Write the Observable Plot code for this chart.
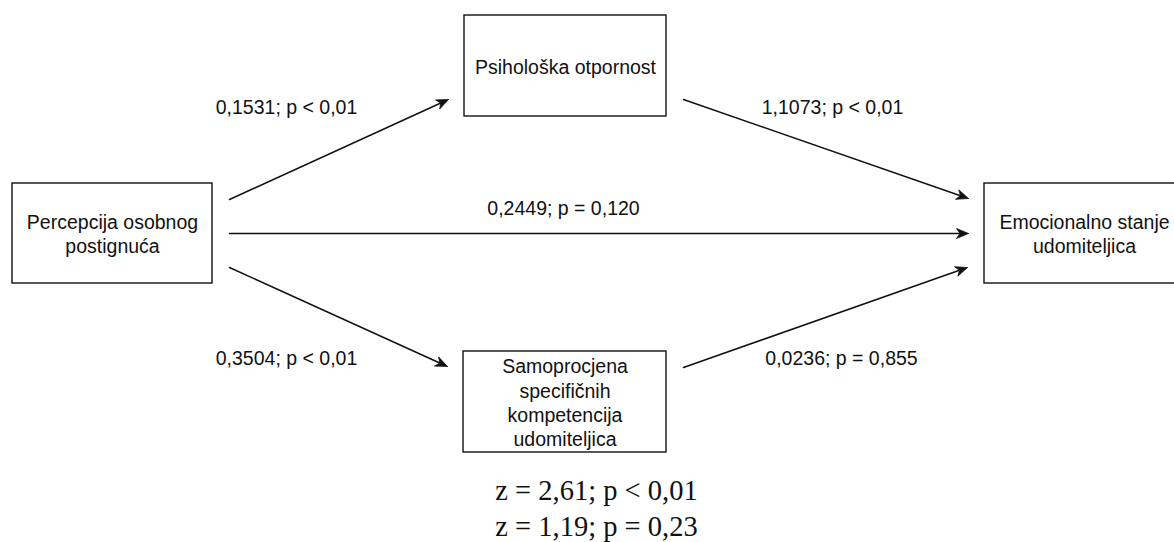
<!DOCTYPE html>
<html>
<head>
<meta charset="utf-8">
<script src="https://cdn.jsdelivr.net/npm/d3@7"></script>
<script src="https://cdn.jsdelivr.net/npm/@observablehq/plot@0.6"></script>
<style>
  html, body { margin: 0; padding: 0; background: #fff; overflow: hidden; }
  #chart svg { display: block; }
</style>
</head>
<body>
<div id="chart"></div>
<script>
// ---------- data ----------
const nodeNames = [
  "Percepcija osobnog\npostignuća",
  "Psihološka otpornost",
  "Samoprocjena\nspecifičnih\nkompetencija\nudomiteljica",
  "Emocionalno stanje\nudomiteljica"
];
const pathFrom = [0, 1, 0, 0, 2];
const pathTo = [1, 3, 3, 2, 3];
const coefficients = ["0,1531", "1,1073", "0,2449", "0,3504", "0,0236"];
const pValues = ["p < 0,01", "p < 0,01", "p = 0,120", "p < 0,01", "p = 0,855"];
const sobelZ = ["2,61", "1,19"];
const sobelP = ["p < 0,01", "p = 0,23"];

// ---------- layout (diagram geometry, pixel space) ----------
const W = 1174, H = 542;
const boxLayout = [
  {x1: 12, x2: 212, y1: 183, y2: 283},
  {x1: 464, x2: 666, y1: 15, y2: 116},
  {x1: 463, x2: 666, y1: 351, y2: 452},
  {x1: 984, x2: 1184, y1: 183, y2: 283}
];
const edgeLayout = [
  {x1: 229, y1: 199, x2: 448, y2: 99, lx: 286, ly: 107},
  {x1: 683, y1: 99, x2: 968, y2: 198, lx: 832, ly: 107},
  {x1: 229, y1: 233, x2: 968, y2: 233, lx: 563, ly: 208},
  {x1: 229, y1: 267, x2: 447, y2: 366, lx: 286, ly: 358},
  {x1: 683, y1: 367, x2: 967, y2: 267, lx: 841, ly: 358}
];
const sobelLayout = {x: 596, y: 505.5};

// ---------- derived tables ----------
const nodes = nodeNames.map((name, i) => ({
  name, ...boxLayout[i],
  cx: (boxLayout[i].x1 + boxLayout[i].x2) / 2,
  cy: (boxLayout[i].y1 + boxLayout[i].y2) / 2
}));

const edges = coefficients.map((c, i) => ({
  from: nodeNames[pathFrom[i]], to: nodeNames[pathTo[i]],
  label: `${c}; ${pValues[i]}`, ...edgeLayout[i]
}));

const HEAD_L = 12, HEAD_W = 5, HEAD_N = 8.5;
const shafts = [];
const heads = [];
edges.forEach((e, i) => {
  const dx = e.x2 - e.x1, dy = e.y2 - e.y1, len = Math.hypot(dx, dy);
  const ux = dx / len, uy = dy / len, px = -uy, py = ux;
  shafts.push({id: i, x: e.x1, y: e.y1});
  shafts.push({id: i, x: e.x2 - ux * HEAD_N, y: e.y2 - uy * HEAD_N});
  const bx = e.x2 - ux * HEAD_L, by = e.y2 - uy * HEAD_L;
  heads.push({id: i, x: e.x2, y: e.y2});
  heads.push({id: i, x: bx + px * HEAD_W, y: by + py * HEAD_W});
  heads.push({id: i, x: e.x2 - ux * HEAD_N, y: e.y2 - uy * HEAD_N});
  heads.push({id: i, x: bx - px * HEAD_W, y: by - py * HEAD_W});
  heads.push({id: i, x: e.x2, y: e.y2});
});

const sobelText = sobelZ.map((z, i) => `z = ${z}; ${sobelP[i]}`).join("\n");

const SANS = "'Liberation Sans', Arial, Helvetica, sans-serif";
const SERIF = "'Liberation Serif', 'Times New Roman', serif";

const chart = Plot.plot({
  width: W,
  height: H,
  margin: 0,
  x: {domain: [0, W], range: [0, W], axis: null},
  y: {domain: [0, H], range: [0, H], axis: null},
  style: {background: "#fff", overflow: "hidden"},
  marks: [
    Plot.rect(nodes, {x1: "x1", x2: "x2", y1: "y1", y2: "y2", fill: "#fff", stroke: "#111", strokeWidth: 1.4}),
    Plot.text(nodes, {x: "cx", y: "cy", text: "name", fontFamily: SANS, fontSize: 19.5, lineHeight: 1.24, fill: "#111", textAnchor: "middle"}),
    Plot.line(shafts, {x: "x", y: "y", z: "id", stroke: "#111", strokeWidth: 1.5}),
    Plot.line(heads, {x: "x", y: "y", z: "id", fill: "#111", stroke: "#111", strokeWidth: 0.8, strokeLinejoin: "miter"}),
    Plot.text(edges, {x: "lx", y: "ly", text: "label", fontFamily: SANS, fontSize: 19.5, fill: "#111", textAnchor: "middle"}),
    Plot.text([sobelText], {x: () => sobelLayout.x, y: () => sobelLayout.y, text: d => d, fontFamily: SERIF, fontSize: 28.5, lineHeight: 1.27, fill: "#111", textAnchor: "middle"})
  ]
});
document.getElementById("chart").appendChild(chart);
</script>
</body>
</html>
